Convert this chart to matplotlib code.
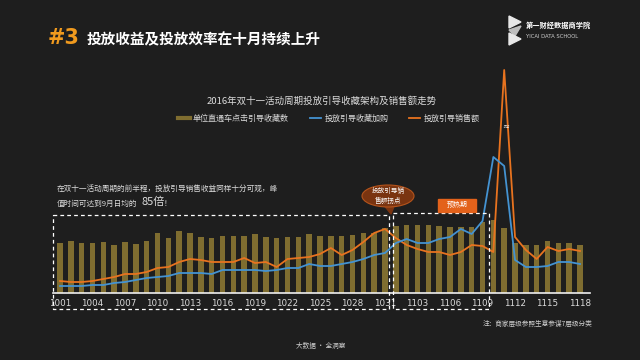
import matplotlib
matplotlib.use('Agg')
import matplotlib.pyplot as plt
from matplotlib.patches import Ellipse, Polygon, Rectangle
from matplotlib.lines import Line2D

plt.rcParams['font.family'] = ['Noto Sans CJK SC', 'DejaVu Sans']

# data (pixel heights above the axis line)
dates = [f'10{d:02d}' for d in range(1, 32)] + [f'11{d:02d}' for d in range(1, 19)]

clicks = [50, 52, 50, 50, 51, 48, 51, 49, 52, 60, 55, 62, 60, 56, 55, 57, 57, 57, 59, 56,
          55, 56, 56, 59, 57, 57, 57, 58, 60, 60, 65, 67, 68, 68, 68, 67, 66, 66, 66, 71,
          73, 65, 50, 48, 48, 52, 50, 50, 48]
carts = [7, 7, 7, 8, 8, 10, 11, 13, 15, 16, 17, 20, 20, 20, 19, 23, 23, 23, 23, 22,
         23, 25, 25, 29, 27, 27, 29, 31, 34, 38, 40, 50, 54, 50, 50, 54, 56, 64, 59, 72,
         136, 127, 33, 26, 26, 27, 31, 31, 29]
sales = [12, 11, 11, 12, 14, 16, 19, 19, 21, 25, 26, 31, 34, 33, 31, 31, 31, 35, 30, 31,
         26, 34, 35, 36, 39, 45, 38, 43, 51, 60, 64, 55, 48, 44, 41, 41, 38, 41, 48, 47,
         41, 223, 56, 43, 34, 46, 42, 44, 42]

series_names = ['单位直通车点击引导收藏数', '投放引导收藏加购', '投放引导销售额']

bg = '#1e1e1e'
bar_c = '#7f6d30'
blue = '#4493d2'
orange = '#e8731f'
txt = '#dcdcdc'

fig = plt.figure(figsize=(6.4, 3.6), dpi=100, facecolor=bg)

ax = fig.add_axes([53/640, 1 - 293/360, 537/640, 233/360])
ax.set_facecolor('none')
x = list(range(len(dates)))
ax.bar(x, clicks, width=0.5, color=bar_c, zorder=1)
ax.plot(x, carts, color=blue, lw=1.3, zorder=3)
ax.plot(x, sales, color=orange, lw=1.3, zorder=2)
ax.set_xlim(-0.646, 48.92)
ax.set_ylim(0, 233)
for s in ['top', 'right', 'left']:
    ax.spines[s].set_visible(False)
ax.spines['bottom'].set_color('#f0f0f0')
ax.spines['bottom'].set_linewidth(1.2)
ax.set_yticks([])
ax.set_xticks(x[::3])
ax.set_xticklabels(dates[::3], color=txt, fontsize=6.3, family=['DejaVu Sans'])
ax.tick_params(axis='x', length=0, pad=4)

handles = [Line2D([0], [0], color=bar_c, lw=3),
           Line2D([0], [0], color=blue, lw=1.3),
           Line2D([0], [0], color=orange, lw=1.3)]
fig.legend(handles, series_names, loc='center', bbox_to_anchor=(329/640, 1 - 118/360),
           ncol=3, frameon=False, fontsize=5.8, handlelength=1.4, handletextpad=0.4,
           columnspacing=2.6, labelcolor=txt)

fig.text(322/640, 1 - 101/360, '2016年双十一活动周期投放引导收藏架构及销售额走势',
         ha='center', va='center', fontsize=6.8, color=txt)

# overlay in pixel coordinates for the slide decoration
ov = fig.add_axes([0, 0, 1, 1])
ov.set_xlim(0, 640)
ov.set_ylim(360, 0)
ov.axis('off')
ov.patch.set_alpha(0)

ov.text(48, 38, '#3', color='#f09a1e', fontsize=15, fontweight='bold', va='center',
        family=['DejaVu Sans'])
ov.text(87, 39, '投放收益及投放效率在十月持续上升', color='white', fontsize=10.5,
        fontweight='bold', va='center')

# logo
ov.add_patch(Polygon([(509, 16), (521, 22), (509, 28)], color='#e8e8e8'))
ov.add_patch(Polygon([(509, 30), (521, 26), (515, 36)], color='#bdbdbd'))
ov.add_patch(Polygon([(509, 33), (521, 39), (509, 45)], color='#e8e8e8'))
ov.text(526, 25, '第一财经数据商学院', color='white', fontsize=5.2, fontweight='bold', va='center')
ov.text(526, 37, 'YICAI DATA SCHOOL', color='#cfcfcf', fontsize=3.8, va='center',
        family=['DejaVu Sans'])

# note text
ov.text(57, 189, '在双十一活动周期的前半程，投放引导销售收益同样十分可观，峰',
        color=txt, fontsize=5.5, va='center')
ov.text(57, 204, '值时间可达到9月日均的', color=txt, fontsize=5.5, va='center')
ov.text(142, 202, '85倍', color=txt, fontsize=8, va='center')
ov.text(164, 204, '！', color=txt, fontsize=5.5, va='center')

# dashed boxes
dash = dict(color='white', lw=0.9, ls=(0, (3, 2.5)))
ov.plot([53, 389, 389, 53, 53], [215, 215, 309, 309, 215], **dash)
ov.plot([393, 489, 489, 393, 393], [213, 213, 309, 309, 213], **dash)

# callout bubble
ov.add_patch(Polygon([(383, 204), (395, 204), (391, 214)], color='#7a3410', zorder=5))
ov.add_patch(Ellipse((388, 196), 52, 22, facecolor='#7a3410', edgecolor='#b5541c',
                     lw=0.8, zorder=5))
ov.text(388, 196, '投放引导销\n售额拐点', color='white', fontsize=4.8, ha='center',
        va='center', linespacing=1.2, zorder=6)

ov.add_patch(Rectangle((438, 199), 38, 13, color='#e3621b', zorder=5))
ov.text(457, 205.5, '预热期', color='white', fontsize=5, ha='center', va='center', zorder=6)

ov.text(506, 126, '≈', color='white', fontsize=6, ha='center', va='center',
        family=['DejaVu Sans'])

ov.text(592, 324, '注：商家层级参照生意参谋7层级分类', color='#cfcfcf', fontsize=4.8,
        ha='right', va='center')
ov.text(321, 346, '大数据 · 全洞察', color='#cfcfcf', fontsize=4.8, ha='center', va='center')

fig.savefig('out.png', dpi=100, facecolor=bg)
